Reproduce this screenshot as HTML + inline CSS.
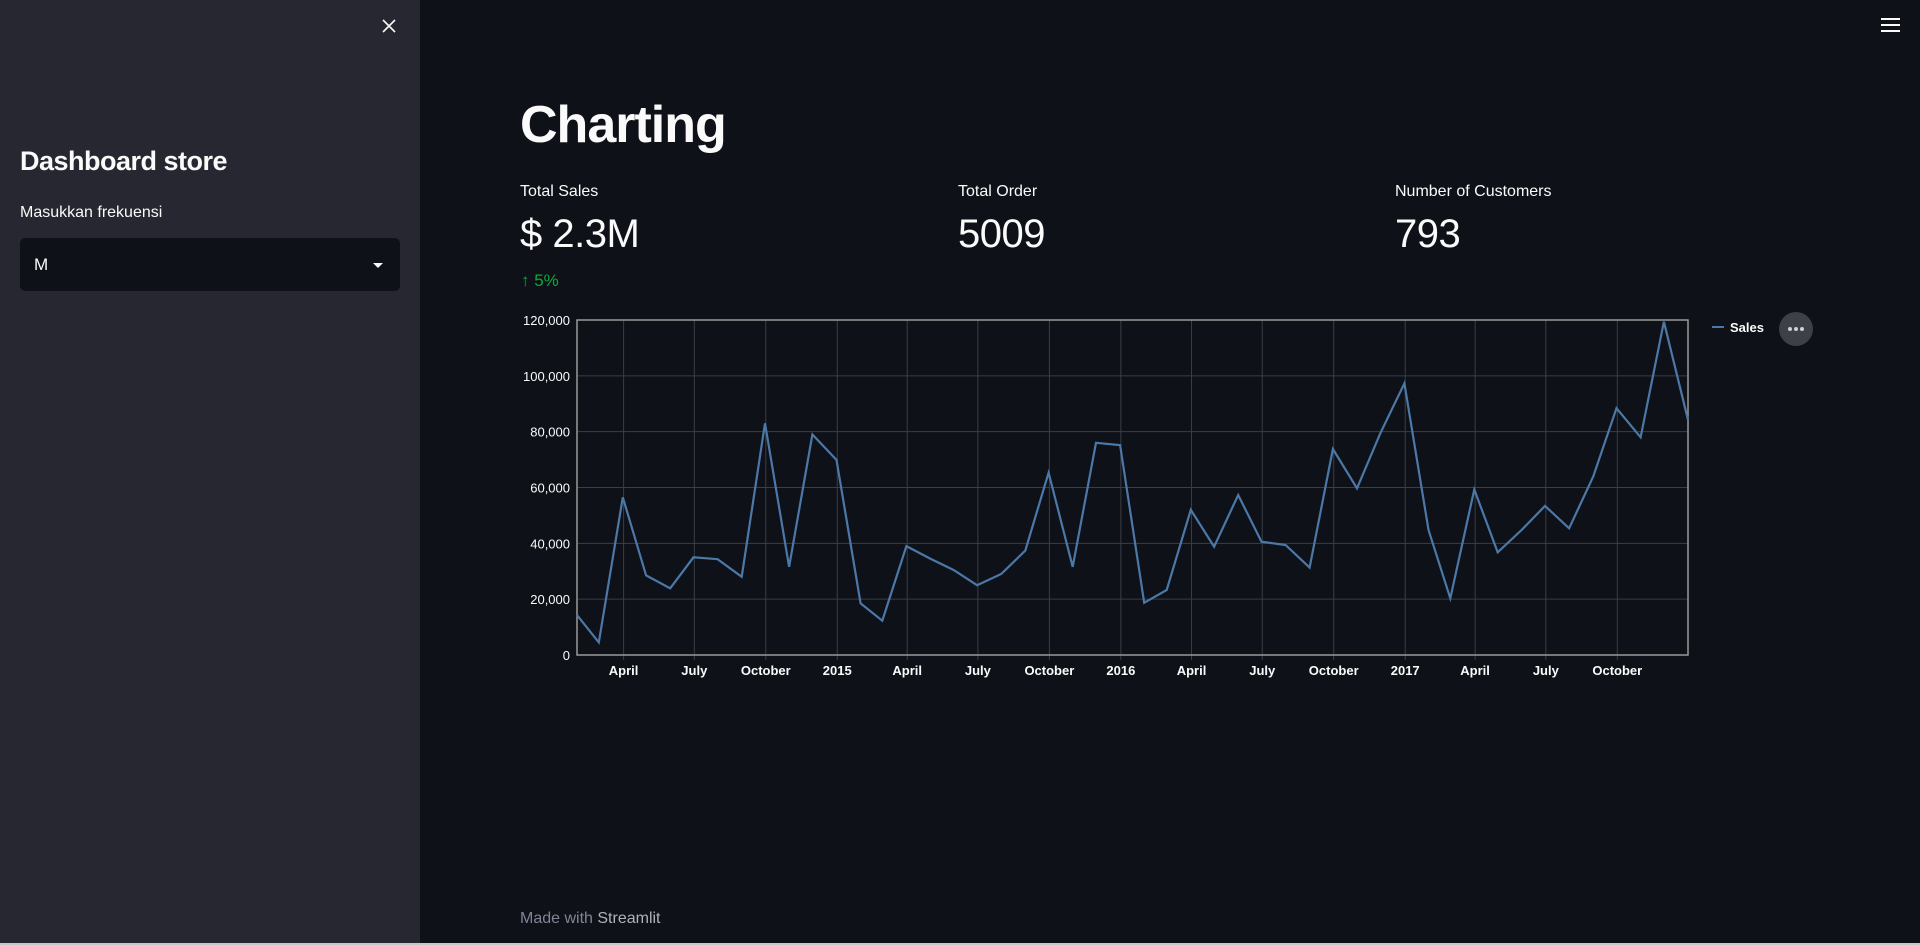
<!DOCTYPE html>
<html><head><meta charset="utf-8">
<style>
html,body{margin:0;padding:0;width:1920px;height:945px;overflow:hidden;background:#0e1117;font-family:"Liberation Sans",sans-serif;color:#fafafa}
.abs{position:absolute;white-space:nowrap}
#sidebar{position:absolute;left:0;top:0;width:420px;height:943px;background:#262730}
</style></head><body>
<div id="sidebar">
  <svg class="abs" style="left:382px;top:19px" width="14" height="14"><path d="M1 1L13 13M13 1L1 13" stroke="#fafafa" stroke-width="1.6"/></svg>
  <div class="abs" style="left:20px;top:146px;font-size:27px;font-weight:bold;letter-spacing:-0.5px">Dashboard store</div>
  <div class="abs" style="left:20px;top:204px;font-size:16px">Masukkan frekuensi</div>
  <div class="abs" style="left:20px;top:238px;width:380px;height:53px;background:#0e1117;border-radius:5px">
    <div class="abs" style="left:14px;top:17px;font-size:17px">M</div>
    <div class="abs" style="left:353px;top:25px;width:0;height:0;border-left:5px solid transparent;border-right:5px solid transparent;border-top:5px solid #fafafa"></div>
  </div>
</div>
<div class="abs" style="left:1881px;top:18px;width:19px">
  <div style="height:2px;background:#fafafa;margin-bottom:4px"></div><div style="height:2px;background:#fafafa;margin-bottom:4px"></div><div style="height:2px;background:#fafafa"></div>
</div>
<div class="abs" style="left:520px;top:95px;font-size:52px;font-weight:bold;letter-spacing:-1px">Charting</div>
<div class="abs" style="left:520px;top:183px;font-size:16px">Total Sales</div>
<div class="abs" style="left:520px;top:212px;font-size:40px;letter-spacing:-0.5px">$ 2.3M</div>
<div class="abs" style="left:521px;top:271px;font-size:17px;color:#09ab3b">↑ 5%</div>
<div class="abs" style="left:958px;top:183px;font-size:16px">Total Order</div>
<div class="abs" style="left:958px;top:212px;font-size:40px;letter-spacing:-0.5px">5009</div>
<div class="abs" style="left:1395px;top:183px;font-size:16px">Number of Customers</div>
<div class="abs" style="left:1395px;top:212px;font-size:40px;letter-spacing:-0.5px">793</div>
<div class="abs" style="left:520px;top:910px;font-size:16px;color:#808495">Made with <span style="color:#b0b3bd">Streamlit</span></div>
<div class="abs" style="left:0;top:943px;width:1920px;height:2px;background:#c8c8c8"></div>

<svg id="chart" width="1920" height="945" style="position:absolute;left:0;top:0">
</svg>
<script>
const salesValues=[14.3,4.5,56.5,28.5,23.9,35,34.3,28,83,31.6,79,69.9,18.5,12.3,39,34.6,30.4,25,29,37.4,65.3,31.6,76,75.2,18.7,23.3,52,38.8,57.3,40.6,39.4,31.3,73.8,59.7,79.4,97.3,44.8,20.3,59.3,36.8,44.8,53.4,45.4,63.9,88.4,78,119.4,84.2];
const startYear=2014;
const yTicks=[0,20000,40000,60000,80000,100000,120000];
const xTickLabels=["April","July","October","2015","April","July","October","2016","April","July","October","2017","April","July","October"];
const xTickMonths=[3,6,9,12,15,18,21,24,27,30,33,36,39,42,45];

const svg=document.getElementById('chart');
const NS='http://www.w3.org/2000/svg';
const L=577,R=1688,T=320,B=655;
function monthEnd(i){const y=startYear+Math.floor(i/12),m=i%12;return Date.UTC(y,m+1,0);}
function monthStart(i){const y=startYear+Math.floor(i/12),m=i%12;return Date.UTC(y,m,1);}
const t0=monthEnd(0),t1=monthEnd(salesValues.length-1);
function xs(t){return L+(t-t0)/(t1-t0)*(R-L);}
function ys(v){return B-v/120000*(B-T);}
function mk(tag,a){const e=document.createElementNS(NS,tag);for(const k in a)e.setAttribute(k,a[k]);svg.appendChild(e);return e;}
yTicks.forEach((v,i)=>{
  const g=mk('line',{x1:L,x2:R,y1:ys(v),y2:ys(v),stroke:'#3b3e46','stroke-width':1});
  
  
  const t=mk('text',{x:L-7,y:ys(v)+5,'text-anchor':'end','font-size':13,fill:'#fafafa','font-family':'Liberation Sans, sans-serif'});
  t.textContent=v.toLocaleString('en-US');
  
  
});
xTickMonths.forEach((m,i)=>{
  const x=xs(monthStart(m));
  const g=mk('line',{x1:x,x2:x,y1:T,y2:B+5,stroke:'#3b3e46','stroke-width':1});
  
  
  const t=mk('text',{x:x,y:B+20,'text-anchor':'middle','font-size':13,'font-weight':'bold',fill:'#fafafa','font-family':'Liberation Sans, sans-serif'});
  t.textContent=xTickLabels[i];
  
  
});
const frame=mk('rect',{x:L,y:T,width:R-L,height:B-T,fill:'none',stroke:'#9a9a9a','stroke-width':1.5});


const pts=salesValues.map((v,i)=>xs(monthEnd(i)).toFixed(1)+','+ys(v*1000).toFixed(1)).join(' ');
const line=mk('polyline',{points:pts,fill:'none',stroke:'#4c78a8','stroke-width':2.2});


const ls=mk('line',{x1:1712,x2:1724,y1:327,y2:327,stroke:'#4c78a8','stroke-width':2});


const lt=mk('text',{x:1730,y:332,'font-size':13,'font-weight':'bold',fill:'#fafafa','font-family':'Liberation Sans, sans-serif'});
lt.textContent='Sales';


const c=mk('circle',{cx:1796,cy:329,r:17,fill:'#3e4048'});


[-6,0,6].forEach(d=>{const dot=mk('circle',{cx:1796+d,cy:329,r:2,fill:'#d0d0d0'});
  
  });
</script>
</body></html>
